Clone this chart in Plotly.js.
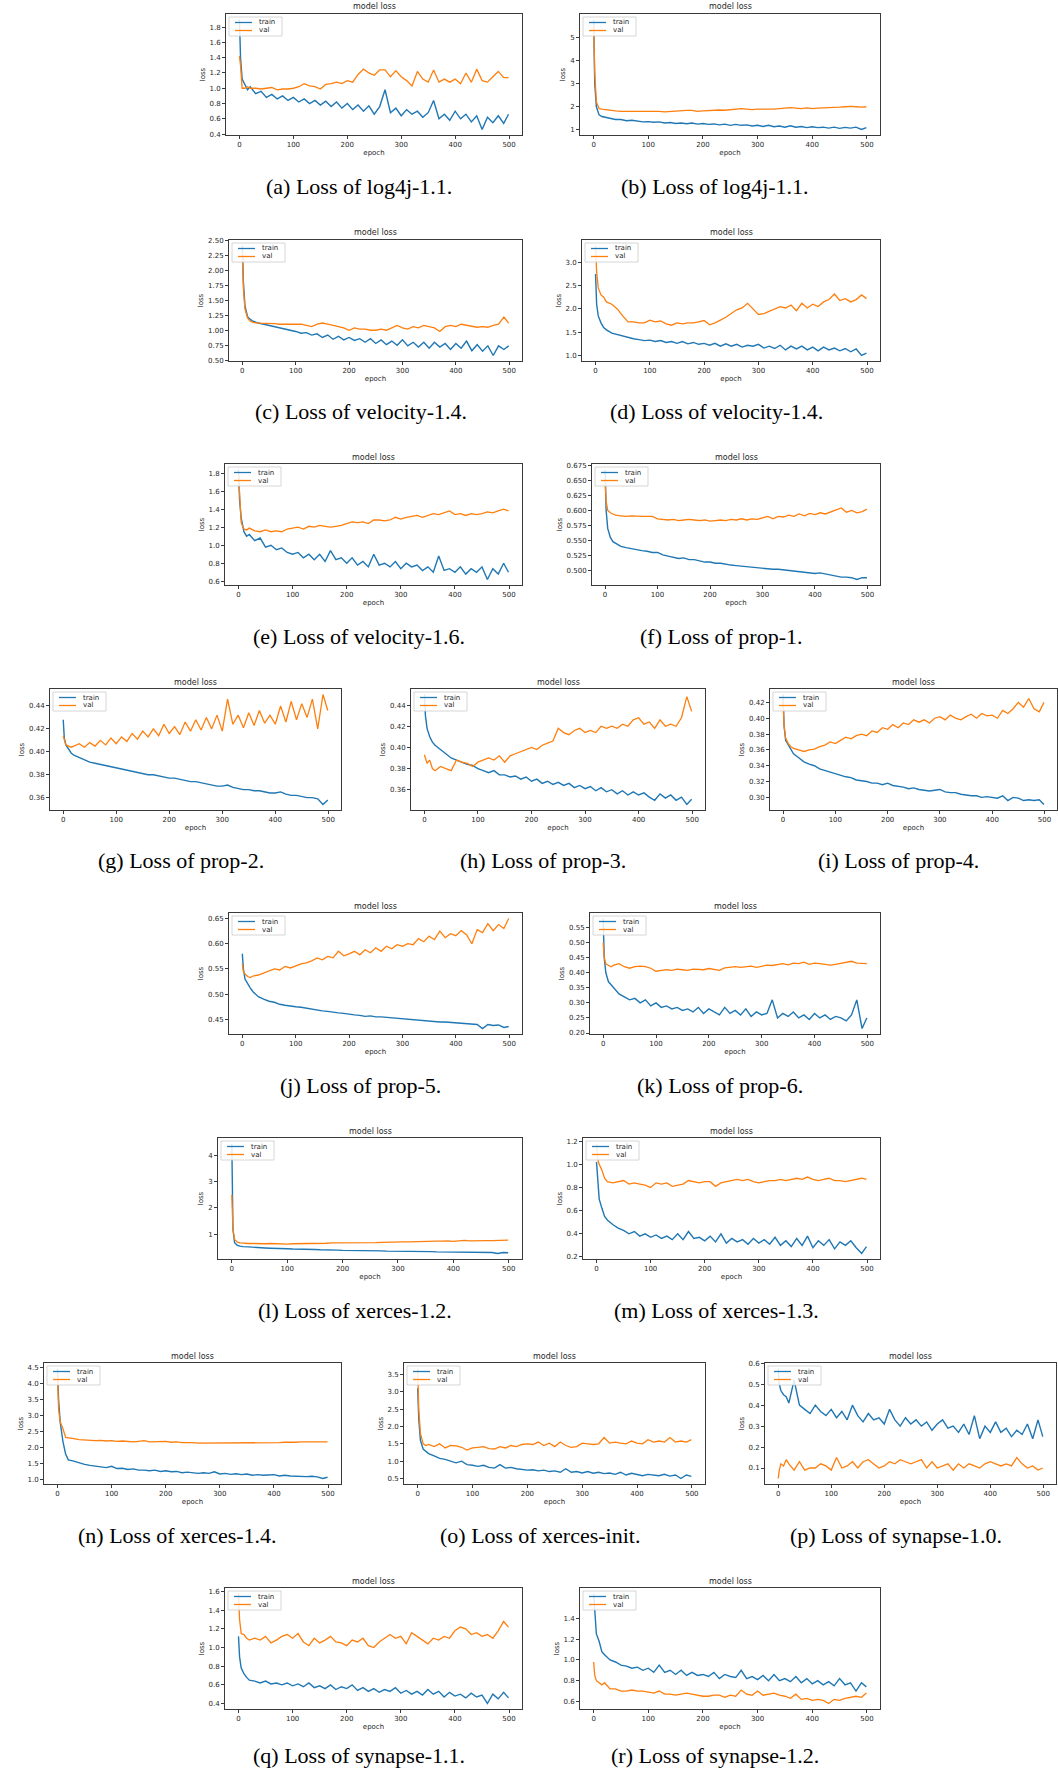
<!DOCTYPE html>
<html><head><meta charset="utf-8">
<script src="https://cdn.plot.ly/plotly-3.0.1.min.js"></script>
<style>html,body{margin:0;padding:0;background:#fff}#chart{width:1058px;height:1772px}</style>
</head><body><div id="chart"></div>
<script>
const EPOCHS = [0,2,5,10,15,20,30,40,50,60,70,80,90,100,110,120,130,140,150,160,170,180,190,200,210,220,230,240,250,260,270,280,290,300,310,320,330,340,350,360,370,380,390,400,410,420,430,440,450,460,470,480,490,499];
const XTICKS = ["0","100","200","300","400","500"];
const CAPTIONS = ["(a) Loss of log4j-1.1.","(b) Loss of log4j-1.1.","(c) Loss of velocity-1.4.","(d) Loss of velocity-1.4.","(e) Loss of velocity-1.6.","(f) Loss of prop-1.","(g) Loss of prop-2.","(h) Loss of prop-3.","(i) Loss of prop-4.","(j) Loss of prop-5.","(k) Loss of prop-6.","(l) Loss of xerces-1.2.","(m) Loss of xerces-1.3.","(n) Loss of xerces-1.4.","(o) Loss of xerces-init.","(p) Loss of synapse-1.0.","(q) Loss of synapse-1.1.","(r) Loss of synapse-1.2."];

const A_TRAIN=[1.90,1.40,1.12,1.05,0.98,1.02, 0.93,0.96,0.88,0.92,0.86, 0.90,0.84,0.88,0.82,0.86, 0.80,0.84,0.78,0.83,0.76, 0.82,0.74,0.80,0.72,0.78, 0.70,0.77,0.66,0.76,0.98, 0.68,0.74,0.64,0.72,0.66, 0.70,0.62,0.68,0.84,0.60, 0.66,0.58,0.70,0.60,0.66, 0.56,0.64,0.46,0.62,0.55, 0.64,0.54,0.66];
const A_VAL=[1.42,1.30,1.00,1.00,1.02,1.00, 1.00,0.99,1.00,1.01,0.98, 0.99,0.99,1.00,1.02,1.06, 1.03,1.02,0.99,1.05,1.06, 1.08,1.06,1.10,1.08,1.18, 1.25,1.20,1.17,1.24,1.24, 1.15,1.23,1.15,1.10,1.03, 1.22,1.12,1.08,1.24,1.08, 1.12,1.08,1.12,1.06,1.20, 1.08,1.25,1.10,1.08,1.15, 1.22,1.14,1.14];
const A_YTICKS=["0.4","0.6","0.8","1.0","1.2","1.4","1.6","1.8"];

const B_TRAIN=[5.76,3.0,2.0,1.65,1.58,1.55, 1.50,1.45,1.45,1.40,1.42, 1.38,1.35,1.36,1.33,1.35, 1.30,1.32,1.28,1.30,1.27, 1.30,1.25,1.28,1.24,1.26, 1.22,1.25,1.20,1.24,1.20, 1.22,1.17,1.20,1.15,1.20, 1.14,1.17,1.12,1.18,1.12, 1.15,1.10,1.14,1.10,1.12, 1.08,1.12,1.07,1.11,1.08, 1.12,1.02,1.10];
const B_VAL=[5.5,3.5,2.2,1.92,1.90,1.88, 1.85,1.82,1.80,1.80,1.79, 1.80,1.80,1.82,1.80,1.80, 1.78,1.80,1.82,1.82,1.84, 1.84,1.80,1.82,1.84,1.84, 1.86,1.85,1.88,1.90,1.92, 1.90,1.88,1.90,1.90,1.88, 1.90,1.92,1.94,1.96,1.94, 1.92,1.95,1.92,1.94,1.95, 1.96,1.94,1.98,2.00,2.02, 2.00,1.98,2.00];
const B_YTICKS=["1","2","3","4","5"];

const C_TRAIN=[2.41,1.80,1.40,1.22,1.18,1.15, 1.12,1.10,1.08,1.06,1.05, 1.02,1.00,0.98,0.95,0.96, 0.92,0.94,0.88,0.92,0.85, 0.90,0.84,0.88,0.83,0.86, 0.80,0.86,0.78,0.84,0.76, 0.82,0.75,0.84,0.74,0.80, 0.72,0.80,0.70,0.80,0.72, 0.78,0.68,0.78,0.70,0.82, 0.66,0.76,0.65,0.74,0.58, 0.74,0.68,0.74];
const C_VAL=[2.30,1.70,1.35,1.20,1.15,1.13, 1.12,1.12,1.11,1.11,1.10, 1.10,1.10,1.10,1.10,1.08, 1.06,1.10,1.12,1.10,1.08, 1.06,1.04,1.00,1.04,1.02, 1.02,1.00,1.00,1.02,1.00, 1.04,1.08,1.04,1.02,1.06, 1.04,1.08,1.06,1.04,0.98, 1.06,1.08,1.06,1.10,1.08, 1.06,1.05,1.06,1.05,1.08, 1.10,1.22,1.12];
const C_YTICKS=["0.50","0.75","1.00","1.25","1.50","1.75","2.00","2.25","2.50"];

const D_TRAIN=[2.75,2.1,1.85,1.70,1.60,1.55, 1.48,1.45,1.42,1.38,1.36, 1.34,1.32,1.33,1.30,1.32, 1.28,1.30,1.26,1.30,1.25, 1.28,1.24,1.26,1.22,1.26, 1.20,1.25,1.20,1.24,1.18, 1.22,1.20,1.24,1.16,1.20, 1.15,1.22,1.12,1.20,1.14, 1.20,1.12,1.18,1.10,1.18, 1.12,1.16,1.10,1.15,1.08, 1.14,1.00,1.05];
const D_VAL=[3.36,2.8,2.45,2.30,2.25,2.15, 2.10,2.00,1.85,1.72,1.72, 1.70,1.70,1.76,1.72,1.74, 1.68,1.65,1.70,1.68,1.70, 1.70,1.72,1.75,1.66,1.70, 1.76,1.82,1.90,1.98,2.02, 2.12,2.00,1.88,1.90,1.95, 2.00,2.05,2.02,2.08,1.96, 2.12,2.02,2.10,2.05,2.15, 2.20,2.32,2.18,2.22,2.15, 2.20,2.30,2.22];
const D_YTICKS=["1.0","1.5","2.0","2.5","3.0"];

const E_TRAIN=[1.84,1.50,1.30,1.15,1.10,1.12, 1.05,1.08,0.98,1.00,0.95, 0.97,0.92,0.90,0.92,0.86, 0.90,0.84,0.90,0.82,0.94, 0.84,0.86,0.80,0.86,0.78, 0.82,0.76,0.90,0.78,0.80, 0.76,0.82,0.74,0.80,0.76, 0.78,0.72,0.76,0.70,0.88, 0.72,0.74,0.70,0.76,0.68, 0.74,0.70,0.76,0.62,0.74, 0.68,0.80,0.70];
const E_VAL=[1.80,1.50,1.25,1.18,1.17,1.19, 1.16,1.15,1.17,1.15,1.16, 1.15,1.18,1.19,1.20,1.18, 1.21,1.20,1.22,1.21,1.20, 1.21,1.22,1.24,1.26,1.25, 1.26,1.24,1.28,1.28,1.27, 1.28,1.31,1.29,1.31,1.32, 1.33,1.31,1.33,1.35,1.34, 1.36,1.38,1.34,1.35,1.33, 1.35,1.34,1.35,1.37,1.36, 1.38,1.40,1.38];
const E_YTICKS=["0.6","0.8","1.0","1.2","1.4","1.6","1.8"];

const F_TRAIN=[0.668,0.600,0.570,0.555,0.548,0.545, 0.540,0.538,0.536,0.535,0.533, 0.532,0.530,0.530,0.526,0.524, 0.522,0.520,0.521,0.518,0.518, 0.516,0.514,0.514,0.512,0.512, 0.510,0.509,0.508,0.507,0.506, 0.505,0.505,0.504,0.503,0.502, 0.502,0.501,0.500,0.499,0.498, 0.497,0.496,0.495,0.496,0.494, 0.492,0.491,0.489,0.489,0.488, 0.485,0.488,0.488];
const F_VAL=[0.650,0.615,0.600,0.596,0.594,0.592, 0.591,0.590,0.591,0.590,0.590, 0.590,0.590,0.586,0.585,0.584, 0.585,0.583,0.584,0.585,0.584, 0.583,0.584,0.582,0.583,0.584, 0.583,0.585,0.584,0.586,0.584, 0.586,0.585,0.588,0.590,0.586, 0.590,0.589,0.592,0.590,0.594, 0.591,0.595,0.593,0.596,0.594, 0.597,0.600,0.604,0.597,0.600, 0.596,0.598,0.602];
const F_YTICKS=["0.475","0.500","0.525","0.550","0.575","0.600","0.625","0.650","0.675"];

const G_TRAIN=[0.428,0.412,0.406,0.402,0.399,0.397, 0.395,0.393,0.391,0.390,0.389, 0.388,0.387,0.386,0.385,0.384, 0.383,0.382,0.381,0.380,0.380, 0.379,0.378,0.377,0.377,0.376, 0.375,0.374,0.374,0.373,0.372, 0.371,0.370,0.370,0.371,0.369, 0.368,0.367,0.367,0.366,0.366, 0.365,0.364,0.364,0.365,0.363, 0.362,0.362,0.361,0.360,0.360, 0.359,0.354,0.358];
const G_VAL=[0.414,0.410,0.406,0.405,0.404,0.405, 0.407,0.404,0.408,0.405,0.410, 0.406,0.412,0.407,0.413,0.409, 0.416,0.411,0.418,0.413,0.420, 0.414,0.424,0.416,0.422,0.415, 0.426,0.418,0.428,0.419,0.430, 0.420,0.432,0.418,0.446,0.424, 0.432,0.421,0.434,0.423,0.436, 0.425,0.432,0.424,0.440,0.426, 0.444,0.428,0.442,0.430,0.446, 0.420,0.450,0.436];
const G_YTICKS=["0.36","0.38","0.40","0.42","0.44"];

const H_TRAIN=[0.450,0.430,0.418,0.410,0.405,0.402, 0.398,0.394,0.390,0.388,0.386, 0.384,0.383,0.380,0.378,0.376, 0.378,0.374,0.374,0.372,0.373, 0.370,0.372,0.368,0.370,0.366, 0.368,0.365,0.367,0.364,0.366, 0.362,0.364,0.361,0.363,0.359, 0.362,0.358,0.360,0.356,0.359, 0.355,0.358,0.355,0.357,0.353, 0.350,0.356,0.352,0.355,0.350, 0.353,0.346,0.351];
const H_VAL=[0.393,0.390,0.385,0.388,0.380,0.378, 0.382,0.380,0.378,0.388,0.386, 0.385,0.382,0.386,0.388,0.390, 0.388,0.392,0.386,0.392,0.394, 0.396,0.398,0.400,0.398,0.402, 0.404,0.406,0.418,0.414,0.412, 0.416,0.418,0.414,0.416,0.414, 0.420,0.418,0.420,0.418,0.422, 0.420,0.426,0.428,0.422,0.424, 0.418,0.426,0.420,0.422,0.420, 0.428,0.448,0.434];
const H_YTICKS=["0.36","0.38","0.40","0.42","0.44"];

const I_TRAIN=[0.430,0.390,0.372,0.366,0.360,0.355, 0.350,0.345,0.342,0.340,0.336, 0.334,0.332,0.330,0.328,0.326, 0.325,0.322,0.321,0.320,0.318, 0.318,0.316,0.318,0.315,0.314, 0.313,0.311,0.312,0.310,0.309, 0.308,0.309,0.310,0.307,0.306, 0.306,0.304,0.303,0.302,0.302, 0.300,0.301,0.300,0.299,0.302, 0.296,0.300,0.299,0.296,0.297, 0.296,0.297,0.291];
const I_VAL=[0.425,0.390,0.375,0.368,0.364,0.362, 0.360,0.358,0.360,0.361,0.364, 0.366,0.370,0.368,0.372,0.376, 0.374,0.378,0.380,0.378,0.384, 0.382,0.388,0.386,0.392,0.388, 0.394,0.392,0.398,0.395,0.398, 0.394,0.400,0.402,0.398,0.404, 0.400,0.398,0.402,0.405,0.400, 0.406,0.403,0.404,0.400,0.410, 0.406,0.412,0.420,0.414,0.425, 0.412,0.408,0.420];
const I_YTICKS=["0.30","0.32","0.34","0.36","0.38","0.40","0.42"];

const J_TRAIN=[0.580,0.550,0.530,0.520,0.512,0.505, 0.495,0.490,0.486,0.484,0.480, 0.478,0.476,0.475,0.474,0.472, 0.470,0.468,0.467,0.466,0.464, 0.463,0.462,0.460,0.459,0.458, 0.456,0.457,0.455,0.455,0.454, 0.453,0.452,0.451,0.450,0.449, 0.448,0.448,0.447,0.446,0.445, 0.445,0.444,0.443,0.443,0.442, 0.441,0.440,0.432,0.440,0.438, 0.439,0.434,0.436];
const J_VAL=[0.560,0.545,0.540,0.535,0.533,0.536, 0.538,0.542,0.545,0.550,0.548, 0.555,0.552,0.556,0.560,0.562, 0.566,0.572,0.568,0.575,0.572, 0.585,0.576,0.580,0.585,0.578, 0.588,0.582,0.592,0.585,0.595, 0.590,0.598,0.595,0.600,0.598, 0.610,0.604,0.615,0.608,0.625, 0.612,0.620,0.616,0.626,0.618, 0.600,0.628,0.622,0.640,0.626, 0.638,0.630,0.650];
const J_YTICKS=["0.45","0.50","0.55","0.60","0.65"];

const K_TRAIN=[0.58,0.45,0.40,0.37,0.36,0.35, 0.33,0.32,0.31,0.315,0.30, 0.31,0.29,0.30,0.285,0.29, 0.28,0.285,0.275,0.28,0.27, 0.285,0.265,0.28,0.27,0.26, 0.285,0.265,0.275,0.26,0.28, 0.255,0.27,0.26,0.265,0.31, 0.25,0.265,0.255,0.27,0.25, 0.26,0.245,0.265,0.25,0.26, 0.245,0.255,0.25,0.24,0.26, 0.31,0.215,0.25];
const K_VAL=[0.50,0.45,0.43,0.425,0.42,0.425, 0.43,0.42,0.415,0.42,0.422, 0.42,0.415,0.405,0.408,0.41, 0.408,0.412,0.41,0.408,0.412, 0.41,0.41,0.414,0.412,0.408, 0.416,0.418,0.42,0.418,0.42, 0.422,0.418,0.422,0.425,0.424, 0.428,0.43,0.426,0.432,0.43, 0.435,0.428,0.432,0.43,0.428, 0.425,0.428,0.432,0.435,0.438, 0.432,0.43,0.43];
const K_YTICKS=["0.20","0.25","0.30","0.35","0.40","0.45","0.50","0.55"];

const L_TRAIN=[4.45,1.2,0.68,0.58,0.55,0.53, 0.52,0.50,0.49,0.48,0.47, 0.47,0.46,0.45,0.44,0.44, 0.43,0.42,0.42,0.41,0.41, 0.42,0.40,0.39,0.39,0.38, 0.38,0.38,0.37,0.38,0.37, 0.36,0.36,0.36,0.35,0.35, 0.35,0.34,0.34,0.34,0.33, 0.33,0.33,0.32,0.33,0.32, 0.32,0.31,0.32,0.31,0.31, 0.27,0.31,0.30];
const L_VAL=[2.5,1.2,0.80,0.70,0.67,0.66, 0.65,0.65,0.64,0.64,0.65, 0.64,0.63,0.63,0.64,0.64, 0.65,0.66,0.65,0.66,0.66, 0.67,0.67,0.67,0.66,0.66, 0.67,0.67,0.68,0.68,0.69, 0.70,0.71,0.72,0.71,0.71, 0.72,0.72,0.73,0.73,0.74, 0.74,0.75,0.73,0.74,0.77, 0.75,0.76,0.77,0.76,0.76, 0.77,0.77,0.78];
const L_YTICKS=["1","2","3","4"];

const M_TRAIN=[1.02,0.85,0.70,0.62,0.55,0.52, 0.48,0.45,0.43,0.40,0.42, 0.38,0.40,0.37,0.39,0.36, 0.38,0.35,0.40,0.35,0.42, 0.36,0.37,0.34,0.38,0.33, 0.40,0.32,0.36,0.33,0.35, 0.31,0.36,0.32,0.35,0.31, 0.37,0.30,0.34,0.29,0.36, 0.30,0.38,0.28,0.34,0.30, 0.35,0.27,0.33,0.30,0.34, 0.28,0.23,0.29];
const M_VAL=[1.18,1.05,1.00,0.95,0.88,0.85, 0.84,0.85,0.86,0.83,0.84, 0.83,0.82,0.80,0.84,0.83, 0.84,0.81,0.82,0.83,0.86, 0.85,0.84,0.85,0.85,0.81, 0.84,0.85,0.86,0.87,0.86, 0.87,0.85,0.84,0.85,0.86, 0.86,0.87,0.86,0.87,0.88, 0.87,0.89,0.87,0.86,0.87, 0.88,0.86,0.86,0.85,0.86, 0.87,0.88,0.87];
const M_YTICKS=["0.2","0.4","0.6","0.8","1.0","1.2"];

const N_TRAIN=[4.47,3.5,2.8,2.2,1.80,1.62, 1.58,1.52,1.48,1.45,1.42, 1.40,1.38,1.42,1.35,1.36, 1.32,1.34,1.30,1.30,1.28, 1.30,1.26,1.28,1.25,1.26, 1.22,1.24,1.22,1.20,1.22, 1.20,1.25,1.18,1.20,1.17, 1.19,1.16,1.18,1.14,1.16, 1.14,1.15,1.16,1.12,1.14, 1.12,1.11,1.12,1.10,1.11, 1.09,1.04,1.08];
const N_VAL=[4.3,3.2,2.8,2.6,2.32,2.30, 2.28,2.25,2.24,2.22,2.22, 2.23,2.21,2.22,2.20,2.21, 2.19,2.18,2.20,2.22,2.18, 2.19,2.18,2.20,2.17,2.18, 2.16,2.17,2.16,2.14,2.14, 2.14,2.15,2.14,2.14,2.15, 2.14,2.15,2.14,2.15,2.16, 2.16,2.15,2.16,2.16,2.17, 2.16,2.17,2.18,2.17,2.18, 2.18,2.19,2.18];
const N_YTICKS=["1.0","1.5","2.0","2.5","3.0","3.5","4.0","4.5"];

const O_TRAIN=[3.1,2.2,1.6,1.35,1.28,1.22, 1.15,1.08,1.05,1.00,0.95, 1.00,0.90,0.88,0.85,0.88, 0.82,0.80,0.90,0.80,0.82, 0.78,0.76,0.74,0.75,0.72, 0.74,0.70,0.72,0.68,0.78, 0.68,0.70,0.66,0.70,0.65, 0.68,0.64,0.66,0.62,0.68, 0.60,0.65,0.62,0.58,0.62, 0.60,0.58,0.62,0.57,0.60, 0.50,0.60,0.56];
const O_VAL=[3.67,2.5,1.8,1.50,1.45,1.48, 1.42,1.50,1.38,1.45,1.44, 1.40,1.32,1.38,1.40,1.42, 1.36,1.35,1.42,1.38,1.45, 1.42,1.48,1.50,1.48,1.55, 1.45,1.52,1.42,1.55,1.45, 1.40,1.42,1.52,1.50,1.48, 1.50,1.68,1.52,1.55,1.52, 1.50,1.58,1.52,1.50,1.62, 1.55,1.58,1.55,1.68,1.55, 1.58,1.55,1.62];
const O_YTICKS=["0.5","1.0","1.5","2.0","2.5","3.0","3.5"];

const P_TRAIN=[0.575,0.50,0.47,0.45,0.44,0.41, 0.52,0.40,0.38,0.36,0.40, 0.37,0.35,0.38,0.34,0.37, 0.33,0.40,0.35,0.32,0.36, 0.33,0.34,0.31,0.38,0.33, 0.30,0.34,0.31,0.33,0.30, 0.32,0.28,0.31,0.33,0.29, 0.30,0.27,0.31,0.26,0.35, 0.24,0.30,0.27,0.32,0.27, 0.29,0.25,0.28,0.26,0.31, 0.24,0.33,0.25];
const P_VAL=[0.05,0.09,0.12,0.11,0.14,0.12, 0.09,0.13,0.09,0.10,0.10, 0.12,0.11,0.09,0.15,0.10, 0.11,0.13,0.10,0.13,0.14, 0.12,0.10,0.11,0.13,0.12, 0.14,0.13,0.12,0.13,0.14, 0.10,0.13,0.10,0.11,0.12, 0.09,0.12,0.10,0.12,0.11, 0.10,0.12,0.13,0.12,0.11, 0.12,0.11,0.15,0.12,0.10, 0.11,0.09,0.10];
const P_YTICKS=["0.1","0.2","0.3","0.4","0.5","0.6"];

const Q_TRAIN=[1.12,0.90,0.78,0.72,0.68,0.65, 0.64,0.62,0.64,0.61,0.62, 0.60,0.62,0.59,0.61,0.58, 0.62,0.57,0.59,0.56,0.60, 0.55,0.58,0.56,0.60,0.54, 0.57,0.53,0.56,0.52,0.55, 0.53,0.57,0.51,0.54,0.50, 0.53,0.49,0.55,0.50,0.53, 0.47,0.52,0.48,0.50,0.46, 0.51,0.47,0.49,0.40,0.50, 0.45,0.52,0.46];
const Q_VAL=[1.58,1.30,1.15,1.14,1.10,1.08, 1.10,1.08,1.12,1.05,1.08, 1.12,1.14,1.10,1.15,1.06, 1.02,1.10,1.05,1.08,1.12, 1.06,1.05,1.02,1.08,1.06, 1.10,1.02,1.00,1.06,1.10, 1.14,1.10,1.12,1.04,1.16, 1.12,1.08,1.04,1.10,1.08, 1.12,1.10,1.18,1.22,1.20, 1.14,1.16,1.12,1.14,1.10, 1.18,1.28,1.22];
const Q_YTICKS=["0.4","0.6","0.8","1.0","1.2","1.4","1.6"];

const R_TRAIN=[1.64,1.45,1.25,1.18,1.08,1.05, 1.00,0.98,0.95,0.94,0.92, 0.93,0.90,0.92,0.88,0.95, 0.88,0.90,0.86,0.90,0.85, 0.88,0.85,0.86,0.84,0.88, 0.82,0.86,0.84,0.83,0.90, 0.82,0.84,0.81,0.85,0.80, 0.86,0.80,0.82,0.79,0.84, 0.78,0.82,0.77,0.80,0.76, 0.79,0.75,0.82,0.76,0.78, 0.70,0.78,0.74];
const R_VAL=[0.98,0.85,0.80,0.78,0.76,0.78, 0.72,0.72,0.70,0.70,0.71, 0.70,0.70,0.69,0.68,0.70, 0.67,0.67,0.66,0.67,0.68, 0.67,0.66,0.65,0.65,0.66, 0.66,0.64,0.66,0.65,0.71, 0.67,0.66,0.70,0.66,0.67, 0.68,0.66,0.65,0.63,0.67, 0.62,0.63,0.61,0.62,0.61, 0.58,0.62,0.61,0.63,0.64, 0.65,0.64,0.68];
const R_YTICKS=["0.6","0.8","1.0","1.2","1.4"];

const PANELS = [
  [A_TRAIN,A_VAL,A_YTICKS],[B_TRAIN,B_VAL,B_YTICKS],
  [C_TRAIN,C_VAL,C_YTICKS],[D_TRAIN,D_VAL,D_YTICKS],
  [E_TRAIN,E_VAL,E_YTICKS],[F_TRAIN,F_VAL,F_YTICKS],
  [G_TRAIN,G_VAL,G_YTICKS],[H_TRAIN,H_VAL,H_YTICKS],[I_TRAIN,I_VAL,I_YTICKS],
  [J_TRAIN,J_VAL,J_YTICKS],[K_TRAIN,K_VAL,K_YTICKS],
  [L_TRAIN,L_VAL,L_YTICKS],[M_TRAIN,M_VAL,M_YTICKS],
  [N_TRAIN,N_VAL,N_YTICKS],[O_TRAIN,O_VAL,O_YTICKS],[P_TRAIN,P_VAL,P_YTICKS],
  [Q_TRAIN,Q_VAL,Q_YTICKS],[R_TRAIN,R_VAL,R_YTICKS]
];

// ---- layout geometry (pixels) ----
const W = 1058, H = 1772, BOX_H = 121;
const ROW_TOP = [14, 240, 464, 689, 913, 1138, 1363, 1588];
const CAP_OFF = [51, 51, 51, 51, 51, 51, 51, 46];
const GEOM = [
  [226,522,0],[580,880,0],
  [229,522,1],[582,880,1],
  [225,522,2],[592,880,2],
  [50,341,3],[411,705,3],[770,1057,3],
  [229,522,4],[590,880,4],
  [218,522,5],[583,880,5],
  [44,341,6],[404,705,6],[765,1056,6],
  [225,522,7],[580,880,7]
];
const FONT = "DejaVu Sans, sans-serif";
const TRAIN_C = "#1f77b4", VAL_C = "#ff7f0e";
const px = x => x / W, py = y => 1 - y / H;

const data = [], annotations = [], shapes = [];
const layout = {
  width: W, height: H, margin: {l:0, r:0, t:0, b:0},
  paper_bgcolor: "#fff", plot_bgcolor: "#fff", showlegend: false,
  font: {family: FONT, size: 7, color: "#262626"}
};

PANELS.forEach((p, i) => {
  const n = i + 1, suf = n === 1 ? "" : String(n);
  const [L, R, row] = GEOM[i];
  const T = ROW_TOP[row], B = T + BOX_H;
  const [tr, va, yt] = p;
  const all = tr.concat(va);
  const mn = Math.min(...all), mx = Math.max(...all), pad = (mx - mn) * 0.05;
  const base = {
    showline: true, mirror: true, linecolor: "#3a3a3a", linewidth: 1,
    ticks: "outside", ticklen: 3, tickwidth: 1, tickcolor: "#3a3a3a",
    showgrid: false, zeroline: false, automargin: false, fixedrange: true,
    tickfont: {family: FONT, size: 7, color: "#262626"}
  };
  layout["xaxis" + suf] = Object.assign({}, base, {
    domain: [px(L), px(R)], anchor: "y" + suf, range: [-24.95, 523.95],
    tickmode: "array", tickvals: XTICKS.map(Number), ticktext: XTICKS,
    title: {text: "epoch", font: {family: FONT, size: 7, color: "#262626"}, standoff: 1}
  });
  layout["yaxis" + suf] = Object.assign({}, base, {
    domain: [py(B), py(T)], anchor: "x" + suf, range: [mn - pad, mx + pad],
    tickmode: "array", tickvals: yt.map(Number), ticktext: yt,
    title: {text: "loss", font: {family: FONT, size: 7, color: "#262626"}, standoff: 3}
  });
  data.push({x: EPOCHS, y: tr, xaxis: "x" + suf, yaxis: "y" + suf, type: "scatter", mode: "lines",
             name: "train", line: {color: TRAIN_C, width: 1.4}, hoverinfo: "skip"});
  data.push({x: EPOCHS, y: va, xaxis: "x" + suf, yaxis: "y" + suf, type: "scatter", mode: "lines",
             name: "val", line: {color: VAL_C, width: 1.3}, hoverinfo: "skip"});

  // title
  annotations.push({xref: "paper", yref: "paper", x: px((L + R) / 2), y: py(T - 0.5),
    xanchor: "center", yanchor: "bottom", showarrow: false, text: "model loss",
    font: {family: FONT, size: 8, color: "#262626"}});
  // caption
  annotations.push({xref: "paper", yref: "paper", x: px((L + R) / 2 - 15), y: py(B + CAP_OFF[row]),
    xanchor: "center", yanchor: "middle", showarrow: false, text: CAPTIONS[i],
    font: {family: "Liberation Serif, serif", size: 22, color: "#000"}});
  // legend box
  shapes.push({type: "rect", xref: "paper", yref: "paper", x0: px(L + 3), x1: px(L + 56),
    y0: py(T + 3), y1: py(T + 22), fillcolor: "rgba(255,255,255,0.85)",
    line: {color: "#cccccc", width: 0.8}, layer: "above"});
  [["train", TRAIN_C, 8.5], ["val", VAL_C, 16.5]].forEach(([lab, col, dy]) => {
    shapes.push({type: "line", xref: "paper", yref: "paper", x0: px(L + 9), x1: px(L + 26),
      y0: py(T + dy), y1: py(T + dy), line: {color: col, width: 1.3}, layer: "above"});
    annotations.push({xref: "paper", yref: "paper", x: px(L + 31), y: py(T + dy),
      xanchor: "left", yanchor: "middle", showarrow: false, text: lab,
      font: {family: FONT, size: 7, color: "#262626"}});
  });
});
layout.annotations = annotations;
layout.shapes = shapes;

Plotly.newPlot("chart", data, layout, {staticPlot: true, displayModeBar: false});
</script>
</body></html>
